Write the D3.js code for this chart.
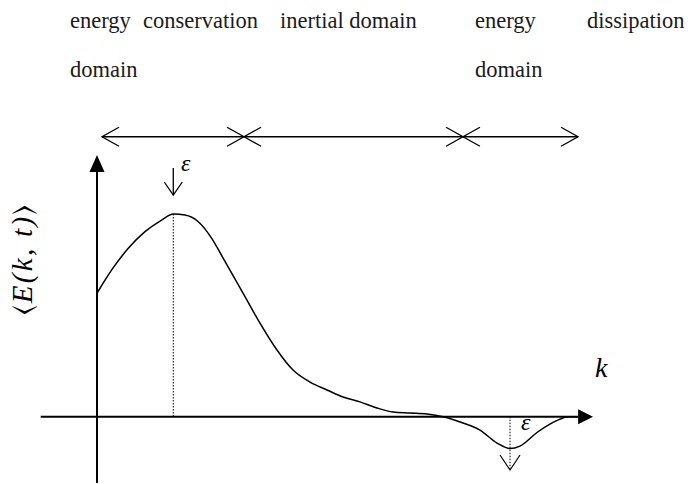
<!DOCTYPE html>
<html><head><meta charset="utf-8"><script src="https://cdn.jsdelivr.net/npm/d3@7"></script>
<style>html,body{margin:0;padding:0;background:#fff}svg{display:block}</style></head>
<body>
<svg id="c" width="688" height="484"></svg>
<script>
// ---- data ----
const kValues = [0, 0.296, 0.631, 0.968, 1.304, 1.538, 1.774, 2.042, 2.313, 2.546, 2.944, 3.286, 3.629, 3.952, 4.294, 4.637, 4.960, 5.302, 5.645, 5.968, 6.310, 6.653, 6.976, 7.379, 7.722, 8.065, 8.327, 8.528, 8.871, 9.194, 9.395, 9.5, 9.698];
const energyValues = [0.609, 0.724, 0.831, 0.913, 0.970, 1.0, 0.995, 0.962, 0.880, 0.781, 0.610, 0.462, 0.329, 0.230, 0.171, 0.132, 0.097, 0.073, 0.043, 0.023, 0.018, 0.013, 0.0, -0.031, -0.066, -0.130, -0.157, -0.145, -0.078, -0.028, -0.006, 0, 0];
const domainBounds = [0.101, 2.964, 7.379, 9.698];
const peakK = 1.538, peakE = 1.0;
const dipK = 8.327, dipE = -0.157;
const headerWords = ["energy", "conservation", "inertial domain", "energy", "dissipation", "domain", "domain"];
const yLabel = "E(k, t)";
const xLabel = "k";
const markLabel = "\u03B5";

// ---- scales ----
const x = d3.scaleLinear().domain([0, 10]).range([97, 593]);
const y = d3.scaleLinear().domain([0, 1]).range([416.7, 214]);

const svg = d3.select("#c");
const F = '"Times New Roman", Tinos, "Liberation Serif", FreeSerif, Georgia, serif';

// domain double arrows
const arrowY = 136.7;
const ga = svg.append("g").attr("stroke", "#000").attr("stroke-width", 1.3).attr("fill", "none");
for (let i = 0; i < domainBounds.length - 1; i++) {
  const x0 = x(domainBounds[i]), x1 = x(domainBounds[i + 1]);
  ga.append("line").attr("x1", x0).attr("x2", x1).attr("y1", arrowY).attr("y2", arrowY).attr("stroke-width", 1.6);
  ga.append("path").attr("d", `M${x0 + 17},${arrowY - 9.5}L${x0},${arrowY}L${x0 + 17},${arrowY + 9.5}`);
  ga.append("path").attr("d", `M${x1 - 17},${arrowY - 9.5}L${x1},${arrowY}L${x1 - 17},${arrowY + 9.5}`);
}

// axes
const gx = svg.append("g");
gx.append("line").attr("x1", 40.7).attr("x2", x(9.7)).attr("y1", y(0)).attr("y2", y(0))
  .attr("stroke", "#000").attr("stroke-width", 2);
gx.append("path").attr("d", `M${x(9.7)},${y(0) - 7.5}L${x(10)},${y(0)}L${x(9.7)},${y(0) + 7.5}Z`).attr("fill", "#000");
gx.append("line").attr("x1", x(0)).attr("x2", x(0)).attr("y1", 483).attr("y2", 170)
  .attr("stroke", "#000").attr("stroke-width", 2);
gx.append("path").attr("d", `M${x(0) - 7.5},172L${x(0)},155L${x(0) + 7.5},172Z`).attr("fill", "#000");

// dotted markers
svg.append("line").attr("x1", x(peakK)).attr("x2", x(peakK)).attr("y1", y(peakE)).attr("y2", y(0))
  .attr("stroke", "#000").attr("stroke-width", 1).attr("stroke-dasharray", "1.5,1.5");
svg.append("line").attr("x1", x(dipK)).attr("x2", x(dipK)).attr("y1", y(0)).attr("y2", 470)
  .attr("stroke", "#000").attr("stroke-width", 1).attr("stroke-dasharray", "1.5,1.5");

// curve
const pts = kValues.map((k, i) => [k, energyValues[i]]);
svg.append("path").datum(pts)
  .attr("d", d3.line().x(d => x(d[0])).y(d => y(d[1])).curve(d3.curveMonotoneX))
  .attr("fill", "none").attr("stroke", "#000").attr("stroke-width", 1.5);

// epsilon arrows
const px = x(peakK);
svg.append("line").attr("x1", px).attr("x2", px).attr("y1", 168).attr("y2", 195).attr("stroke", "#000").attr("stroke-width", 1.3);
svg.append("path").attr("d", `M${px - 9},182L${px},195L${px + 9},182`).attr("fill", "none").attr("stroke", "#000").attr("stroke-width", 1.3);
const dx = x(dipK);
svg.append("path").attr("d", `M${dx - 10},455L${dx},470L${dx + 10},455`).attr("fill", "none").attr("stroke", "#000").attr("stroke-width", 1.2);

// text layer
const gt = svg.append("g").style("font-family", F);
const headerPos = [[70, 28], [143, 28], [280, 28], [475, 28], [587, 28], [70, 77], [475, 77]];
gt.append("g").selectAll("text").data(headerWords).join("text")
  .attr("x", (d, i) => headerPos[i][0])
  .attr("y", (d, i) => headerPos[i][1])
  .style("font-family", F)
  .attr("font-size", 22.5)
  .attr("fill", "#1a1a1a")
  .text(d => d);

gt.append("text").attr("x", 181).attr("y", 171).style("font-family", F).attr("font-style", "italic")
  .attr("font-size", 24).text(markLabel);
gt.append("text").attr("x", 521).attr("y", 430).style("font-family", F).attr("font-style", "italic")
  .attr("font-size", 24).text(markLabel);
gt.append("text").attr("x", 595).attr("y", 377).style("font-family", F).attr("font-style", "italic")
  .attr("font-size", 28).text(xLabel);

const yl = gt.append("text").attr("transform", "translate(32,260) rotate(-90)")
  .style("font-family", F)
  .attr("text-anchor", "middle").attr("font-size", 29)
  .attr("textLength", 110).attr("lengthAdjust", "spacing");
yl.append("tspan").text("\u27E8");
yl.append("tspan").attr("font-style", "italic").text(yLabel);
yl.append("tspan").text("\u27E9");

// re-apply after fonts are ready so layout uses the loaded face
if (document.fonts && document.fonts.load) {
  document.fonts.load('22px "Times New Roman"').then(() => {
    gt.selectAll("text").style("font-family", F);
  });
}
</script></body></html>
